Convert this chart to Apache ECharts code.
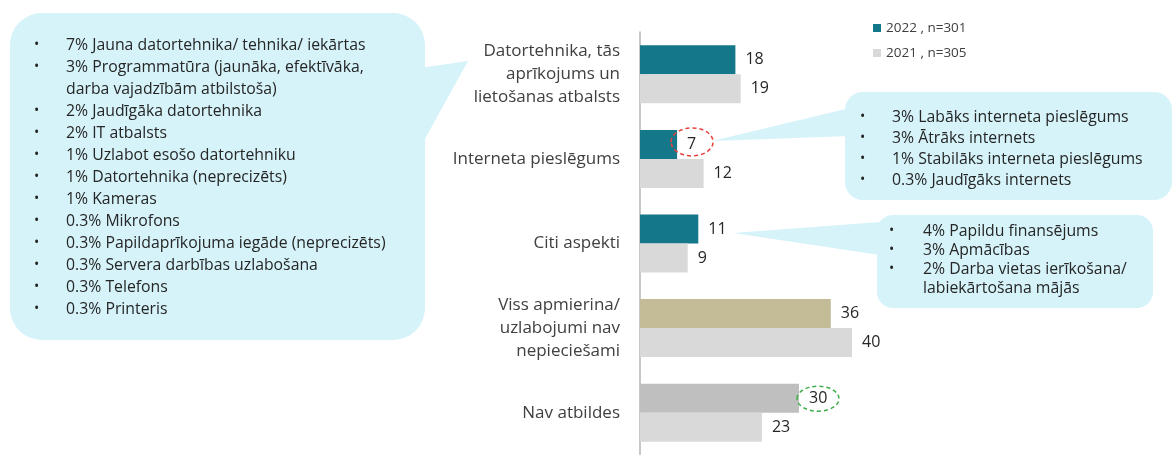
<!DOCTYPE html>
<html>
<head>
<meta charset="utf-8">
<script src="https://cdn.jsdelivr.net/npm/echarts@6/dist/echarts.min.js"></script>
<style>
  html, body { margin: 0; padding: 0; background: #fff; }
  #chart { width: 1175px; height: 455px; }
</style>
</head>
<body>
<div id="chart"></div>
<script>
const categories = [
  'Datortehnika, tās\naprīkojums un\nlietošanas atbalsts',
  'Interneta pieslēgums',
  'Citi aspekti',
  'Viss apmierina/\nuzlabojumi nav\nnepieciešami',
  'Nav atbildes'
]
const seriesNames = ['2022 , n=301', '2021 , n=305']
const values2022 = [18, 7, 11, 36, 30]
const values2021 = [19, 12, 9, 40, 23]
const colors2022 = ['#15788a', '#15788a', '#15788a', '#c4bc96', '#bfbfbf']

const noteTech = [
  '7% Jauna datortehnika/ tehnika/ iekārtas',
  '3% Programmatūra (jaunāka, efektīvāka,\ndarba vajadzībām atbilstoša)',
  '2% Jaudīgāka datortehnika',
  '2% IT atbalsts',
  '1% Uzlabot esošo datortehniku',
  '1% Datortehnika (neprecizēts)',
  '1% Kameras',
  '0.3% Mikrofons',
  '0.3% Papildaprīkojuma iegāde (neprecizēts)',
  '0.3% Servera darbības uzlabošana',
  '0.3% Telefons',
  '0.3% Printeris'
]
const noteInternet = [
  '3% Labāks interneta pieslēgums',
  '3% Ātrāks internets',
  '1% Stabilāks interneta pieslēgums',
  '0.3% Jaudīgāks internets'
]
const noteOther = [
  '4% Papildu finansējums',
  '3% Apmācības',
  '2% Darba vietas ierīkošana/\nlabiekārtošana mājās'
]

const bubble = '#d5f3f9'
const font = '"Open Sans", "Noto Sans", sans-serif'

function callout (box, tail, lines, bulletX, textX, firstY, lineH) {
  const children = [
    { type: 'polygon', shape: { points: tail }, style: { fill: bubble } },
    { type: 'rect', shape: { x: box[0], y: box[1], width: box[2], height: box[3], r: box[4] }, style: { fill: bubble } }
  ]
  let row = 0
  lines.forEach(function (item) {
    item.split('\n').forEach(function (part, k) {
      const y = firstY + row * lineH
      if (k === 0) {
        children.push({ type: 'text', x: bulletX, y: y, style: { text: '•', fill: '#262626', fontSize: 14, fontFamily: font, verticalAlign: 'middle' } })
      }
      children.push({ type: 'text', x: textX, y: y, style: { text: part, fill: '#262626', fontSize: 15.8, fontFamily: font, verticalAlign: 'middle' } })
      row++
    })
  })
  return { type: 'group', z: 0, children: children }
}

const chart = echarts.init(document.getElementById('chart'))
const option = {
  animation: false,
  textStyle: { fontFamily: font },
  legend: {
    orient: 'vertical',
    left: 868,
    top: 16,
    itemWidth: 8,
    itemHeight: 8,
    itemGap: 11,
    icon: 'rect',
    textStyle: { fontSize: 13.5, color: '#404040' },
    data: seriesNames
  },
  grid: {
    left: 640,
    top: 32,
    width: 530,
    height: 430
  },
  xAxis: {
    type: 'value',
    min: 0,
    max: 100,
    show: false
  },
  yAxis: {
    type: 'category',
    inverse: true,
    data: categories,
    axisTick: { show: false },
    axisLine: { lineStyle: { color: '#b4b4b4', width: 1.5 } },
    axisLabel: {
      margin: 20,
      fontSize: 17,
      lineHeight: 23,
      color: '#404040',
      align: 'right'
    }
  },
  series: [
    {
      name: seriesNames[0],
      type: 'bar',
      barWidth: 29,
      barGap: 0,
      color: '#15788a',
      z: 3,
      label: { show: true, position: 'right', distance: 10, fontSize: 16, color: '#262626' },
      data: values2022.map(function (v, i) {
        return { value: v, itemStyle: { color: colors2022[i] } }
      })
    },
    {
      name: seriesNames[1],
      type: 'bar',
      barWidth: 29,
      barGap: 0,
      color: '#d9d9d9',
      z: 3,
      label: { show: true, position: 'right', distance: 10, fontSize: 16, color: '#262626' },
      data: values2021
    }
  ]
}
chart.setOption(option)

// dashed rings around two of the 2022 labels
const p7 = chart.convertToPixel({ gridIndex: 0 }, [values2022[1], 1])
const p30 = chart.convertToPixel({ gridIndex: 0 }, [values2022[4], 4])

chart.setOption({
  graphic: [
    callout([10, 13, 415, 327, 32], [[420, 68], [468, 61], [420, 148]], noteTech, 34, 66, 45, 22),
    callout([845, 92, 327, 108, 18], [[850, 108], [712, 141], [850, 136]], noteInternet, 860, 892, 117, 21),
    callout([877, 215, 276, 93, 16], [[880, 222], [733, 233], [880, 255]], noteOther, 889, 923, 231, 19),
    {
      type: 'ellipse',
      z: 10,
      shape: { cx: p7[0] + 15, cy: p7[1] - 17, rx: 21, ry: 14 },
      style: { fill: 'none', stroke: '#e8413c', lineWidth: 1.5, lineDash: [4, 3] }
    },
    {
      type: 'ellipse',
      z: 10,
      shape: { cx: p30[0] + 19, cy: p30[1] - 14, rx: 21, ry: 12.5 },
      style: { fill: 'none', stroke: '#3fae49', lineWidth: 1.5, lineDash: [4, 3] }
    }
  ]
})

window.addEventListener('resize', function () {
  chart.resize()
})
</script>
</body>
</html>
